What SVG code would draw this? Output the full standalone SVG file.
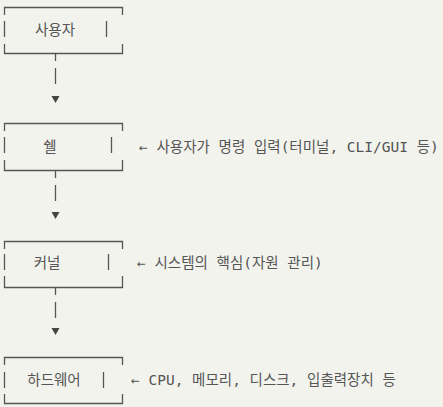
<svg xmlns="http://www.w3.org/2000/svg" width="443" height="407" viewBox="0 0 443 407">
<style>
.b{fill:none;stroke:#555;stroke-width:1.3}
.t{font-family:"DejaVu Sans Mono","Noto Sans CJK KR",monospace;font-size:14.5px;fill:#555}
.a{fill:#444}
</style>
<rect width="443" height="407" fill="#f3f3ee"/>
<g id="user">
<path class="b" d="M4.5 15V7.5H122.5V15M4.5 21V37M106.5 21V37M4.5 44V53.5H122.5V44"/>
<text class="t" x="55" y="35" text-anchor="middle">사용자</text>
</g>
<g id="shell">
<path class="b" d="M4.5 131V123.5H122.5V131M4.5 137V153M111.5 137V153M4.5 160V170.5H122.5V160"/>
<text class="t" x="50" y="152" text-anchor="middle">쉘</text>
<text class="t" x="139" y="152">← 사용자가 명령 입력(터미널, CLI/GUI 등)</text>
</g>
<g id="kernel">
<path class="b" d="M4.5 249V241.5H122.5V249M4.5 254V270M108.5 254V270M4.5 276V287.5H122.5V276"/>
<text class="t" x="47" y="268" text-anchor="middle">커널</text>
<text class="t" x="137" y="268">← 시스템의 핵심(자원 관리)</text>
</g>
<g id="hardware">
<path class="b" d="M4.5 365V357.5H122.5V365M4.5 372V388M103.5 372V388M4.5 394V403.5H122.5V394"/>
<text class="t" x="54" y="385" text-anchor="middle">하드웨어</text>
<text class="t" x="131" y="385">← CPU, 메모리, 디스크, 입출력장치 등</text>
</g>
<g id="connectors">
<path class="b" d="M55.5 53V61M55.5 68V84M55.5 170V178M55.5 185V201M55.5 287V295M55.5 302V318"/>
<path class="a" d="M51.5 96H59.5L55.5 103Z"/>
<path class="a" d="M51.5 212H59.5L55.5 219Z"/>
<path class="a" d="M51.5 328H59.5L55.5 335Z"/>
</g>
</svg>
